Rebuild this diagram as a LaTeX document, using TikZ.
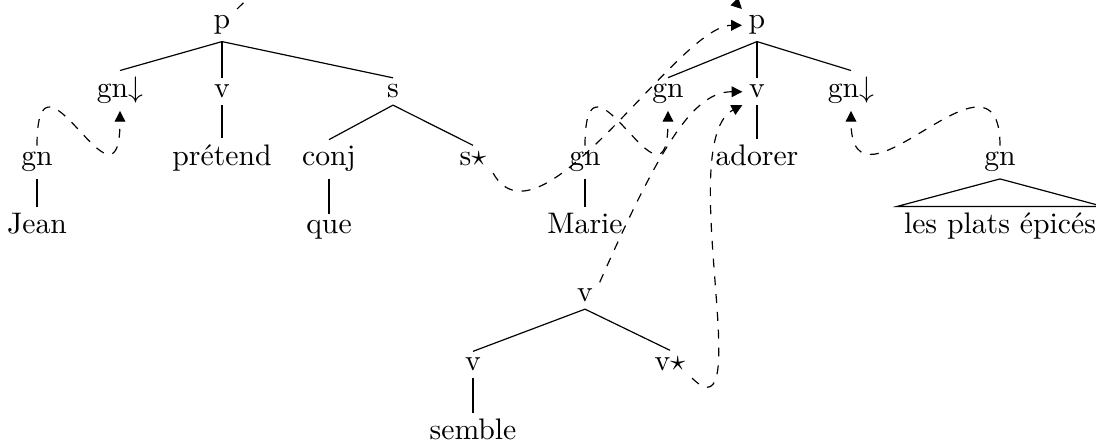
\documentclass[tikz,border=0pt]{standalone}
\usetikzlibrary{arrows.meta}
\begin{document}
\begin{tikzpicture}[x=0.3365pt,y=0.3365pt,
  tn/.style={inner sep=2.1pt, anchor=base},
  dep/.style={dashed, -{Triangle[length=3.6pt,width=3.6pt]}}]
\useasboundingbox (0,0) rectangle (1096,443);
% left tree
\node[tn] (pL) at (222,414) {p};
\node[tn] (gndL) at (120,345) {gn$\downarrow$};
\node[tn] (vL) at (222,345) {v};
\node[tn] (sL) at (393,345) {s};
\node[tn] (gnJ) at (37,277) {gn};
\node[tn] (pret) at (222,277) {prétend};
\node[tn] (conj) at (329,277) {conj};
\node[tn] (sstar) at (473,277) {s$\star$};
\node[tn] (jean) at (37,209) {Jean};
\node[tn] (que) at (329,209) {que};
% right tree
\node[tn] (pR) at (757,414) {p};
\node[tn] (gnS) at (668,345) {gn};
\node[tn] (vR) at (757,345) {v};
\node[tn] (gndR) at (851,345) {gn$\downarrow$};
\node[tn] (ador) at (757,277) {adorer};
\node[tn] (gnM) at (585,277) {gn};
\node[tn] (marie) at (585,209) {Marie};
\node[tn] (gnP) at (1000,277) {gn};
\node[tn] (plats) at (1000,209) {les plats épicés};
% lower tree
\node[tn] (vT) at (585,141) {v};
\node[tn] (vB) at (473,72) {v};
\node[tn] (vstar) at (670,72) {v$\star$};
\node[tn] (semble) at (473,3) {semble};
% tree edges
\draw (pL.south) -- (gndL.north);
\draw (pL.south) -- (vL.north);
\draw (pL.south) -- (sL.north);
\draw (vL.south) -- (pret.north);
\draw (sL.south) -- (conj.north);
\draw (sL.south) -- (sstar.north);
\draw (gnJ.south) -- (jean.north);
\draw (conj.south) -- (que.north);
\draw (pR.south) -- (gnS.north);
\draw (pR.south) -- (vR.north);
\draw (pR.south) -- (gndR.north);
\draw (vR.south) -- (ador.north);
\draw (gnM.south) -- (marie.north);
\draw (gnP.south) -- (plats.north west) -- (plats.north east) -- cycle;
\draw (vT.south) -- (vB.north);
\draw (vT.south) -- (vstar.north);
\draw (vB.south) -- (semble.north);
% derivation arrows
\draw[dep] (gnJ) to[out=90,in=-90,distance=40pt] (gndL);
\draw[dep] (gnP) to[out=90,in=-90,distance=40pt] (gndR);
\draw[dep] (gnM) to[out=90,in=-90,distance=40pt] (gnS);
\draw[dep] (sstar.south east) .. controls +(47,-83) and +(-64,0) .. (pR.west);
\draw[dep] (vT.north east) .. controls +(62,140) and +(-48,0) .. (vR.west);
\draw[dep] (vstar.south east) .. controls +(66,-65) and +(-69,-36) .. (vR.south west);
\draw[dep] (pL.north east) to[out=45,in=135] (pR.north west);
\end{tikzpicture}
\end{document}
